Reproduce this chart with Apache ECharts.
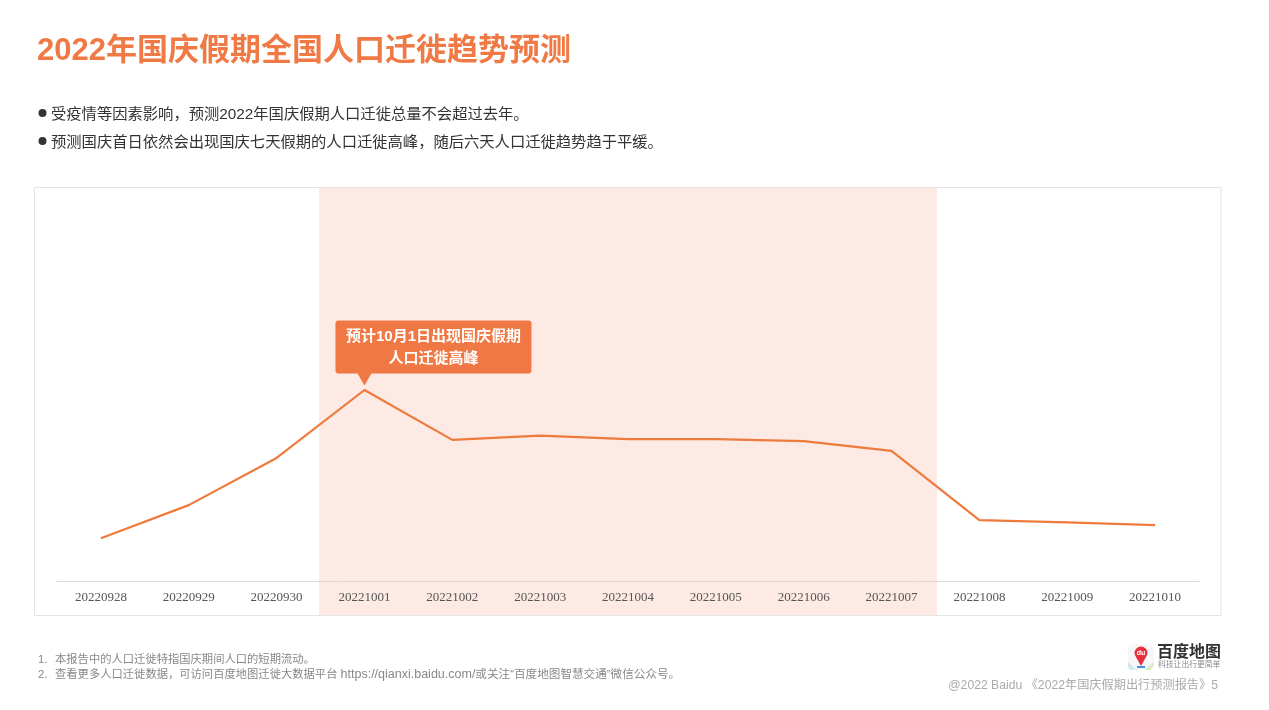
<!DOCTYPE html>
<html>
<head>
<meta charset="utf-8">
<style>html,body{margin:0;padding:0;background:#fff}#chart{width:1269px;height:710px}</style>
<script src="https://cdn.jsdelivr.net/npm/echarts@6/dist/echarts.min.js"></script>
</head>
<body>
<div id="chart"></div>
<script>
const dates = ['20220928','20220929','20220930','20221001','20221002','20221003','20221004','20221005','20221006','20221007','20221008','20221009','20221010'];
const migration = [10.9, 19.3, 31.3, 48.6, 35.9, 37.0, 36.1, 36.1, 35.6, 33.1, 15.5, 14.9, 14.2];
const peakIndex = 3;
const bullets = ['受疫情等因素影响，预测2022年国庆假期人口迁徙总量不会超过去年。', '预测国庆首日依然会出现国庆七天假期的人口迁徙高峰，随后六天人口迁徙趋势趋于平缓。'];
const notes = ['本报告中的人口迁徙特指国庆期间人口的短期流动。', '{c|查看更多人口迁徙数据，可访问百度地图迁徙大数据平台 }{u|https://qianxi.baidu.com/}{t|或关注“百度地图智慧交通”微信公众号。}'];

const FONT = '"Liberation Sans","Noto Sans CJK SC",sans-serif';
const ORANGE = '#ee7a3c';

const chart = echarts.init(document.getElementById('chart'), null, { renderer: 'canvas' });

function txt(x, y, text, size, color, extra) {
  return {
    type: 'text', x: x, y: y, z: 10,
    style: Object.assign({ text: text, fontSize: size, fontFamily: FONT, fill: color, verticalAlign: 'middle' }, extra || {})
  };
}

const graphics = [
  // holiday band and frame
  { type: 'rect', z: 0, shape: { x: 319, y: 188, width: 618, height: 427 }, style: { fill: '#fdeae5' } },
  { type: 'rect', z: 1, shape: { x: 34.5, y: 187.5, width: 1186.5, height: 428 }, style: { fill: 'none', stroke: '#e4e4e4', lineWidth: 1 } },
  txt(37, 51, '2022年国庆假期全国人口迁徙趋势预测', 31, '#ef7a45', { fontWeight: 'bold' }),
  { type: 'circle', shape: { cx: 42.5, cy: 113, r: 4 }, style: { fill: '#333' } },
  { type: 'circle', shape: { cx: 42.5, cy: 141, r: 4 }, style: { fill: '#333' } },
  txt(51, 115, bullets[0], 15.3, '#333'),
  txt(51, 143, bullets[1], 15.3, '#333'),
  txt(38, 660, '1.', 11.3, '#888'),
  txt(38, 675, '2.', 11.3, '#888'),
  txt(55, 660, notes[0], 11.3, '#888'),
  txt(55, 675, notes[1], 11.3, '#888', {
    rich: {
      c: { fontSize: 11.3, fontFamily: FONT, fill: '#888' },
      u: { fontSize: 12.5, fontFamily: FONT, fill: '#888' },
      t: { fontSize: 11.6, fontFamily: FONT, fill: '#888' }
    }
  }),
  txt(1218, 686, '@2022 Baidu 《2022年国庆假期出行预测报告》5', 12.2, '#aaa', { align: 'right' }),
  // logo
  { type: 'rect', shape: { x: 1128, y: 644, width: 26, height: 26, r: 5 }, style: { fill: '#f5f7f9' } },
  { type: 'polygon', shape: { points: [[1145, 670], [1154, 662], [1154, 666], [1150, 670]] }, style: { fill: '#d6ecc4' } },
  { type: 'polygon', shape: { points: [[1128, 662], [1136, 670], [1130, 670], [1128, 667]] }, style: { fill: '#cfe6f5' } },
  { type: 'rect', shape: { x: 1137, y: 666, width: 8, height: 2 }, style: { fill: '#4a8fe0' } },
  { type: 'circle', shape: { cx: 1141, cy: 653, r: 6.5 }, style: { fill: '#e8303a' } },
  { type: 'polygon', shape: { points: [[1136, 657], [1146, 657], [1141, 666]] }, style: { fill: '#e8303a' } },
  txt(1141, 653, 'du', 7, '#fff', { align: 'center', fontWeight: 'bold' }),
  txt(1157, 653, '百度地图', 16, '#333', { fontWeight: 'bold' }),
  txt(1158, 665, '科技让出行更简单', 7.8, '#888')
];

let option = {
  animation: false,
  backgroundColor: '#fff',
  graphic: { elements: graphics },
  grid: { left: 57, right: 70, top: 188, bottom: 129, containLabel: false },
  xAxis: {
    type: 'category',
    data: dates,
    axisLine: { lineStyle: { color: '#d9d9d9', width: 1 } },
    axisTick: { show: false },
    axisLabel: { color: '#555', fontSize: 13, fontFamily: '"Liberation Serif",serif', margin: 10, interval: 0 }
  },
  yAxis: { type: 'value', min: 0, max: 100, show: false, splitLine: { show: false } },
  series: [{
    type: 'line',
    z: 5,
    data: migration,
    showSymbol: false,
    symbol: 'none',
    lineStyle: { color: ORANGE, width: 2.2 },
    itemStyle: { color: ORANGE },
    markPoint: {
      silent: true,
      symbol: 'triangle',
      symbolRotate: 180,
      symbolSize: [15, 13],
      symbolOffset: [0, -11],
      itemStyle: { color: '#f07844' },
      label: {
        show: true,
        position: 'top',
        distance: -1,
        offset: [69, 0],
        formatter: '预计10月1日出现国庆假期\n人口迁徙高峰',
        color: '#fff',
        fontSize: 15,
        fontWeight: 'bold',
        fontFamily: FONT,
        lineHeight: 22,
        align: 'center',
        width: 176,
        backgroundColor: '#f07844',
        borderRadius: 3,
        padding: [5, 10, 4, 10]
      },
      data: [{ coord: [dates[peakIndex], migration[peakIndex]] }]
    }
  }]
};
chart.setOption(option);
</script>
</body>
</html>
